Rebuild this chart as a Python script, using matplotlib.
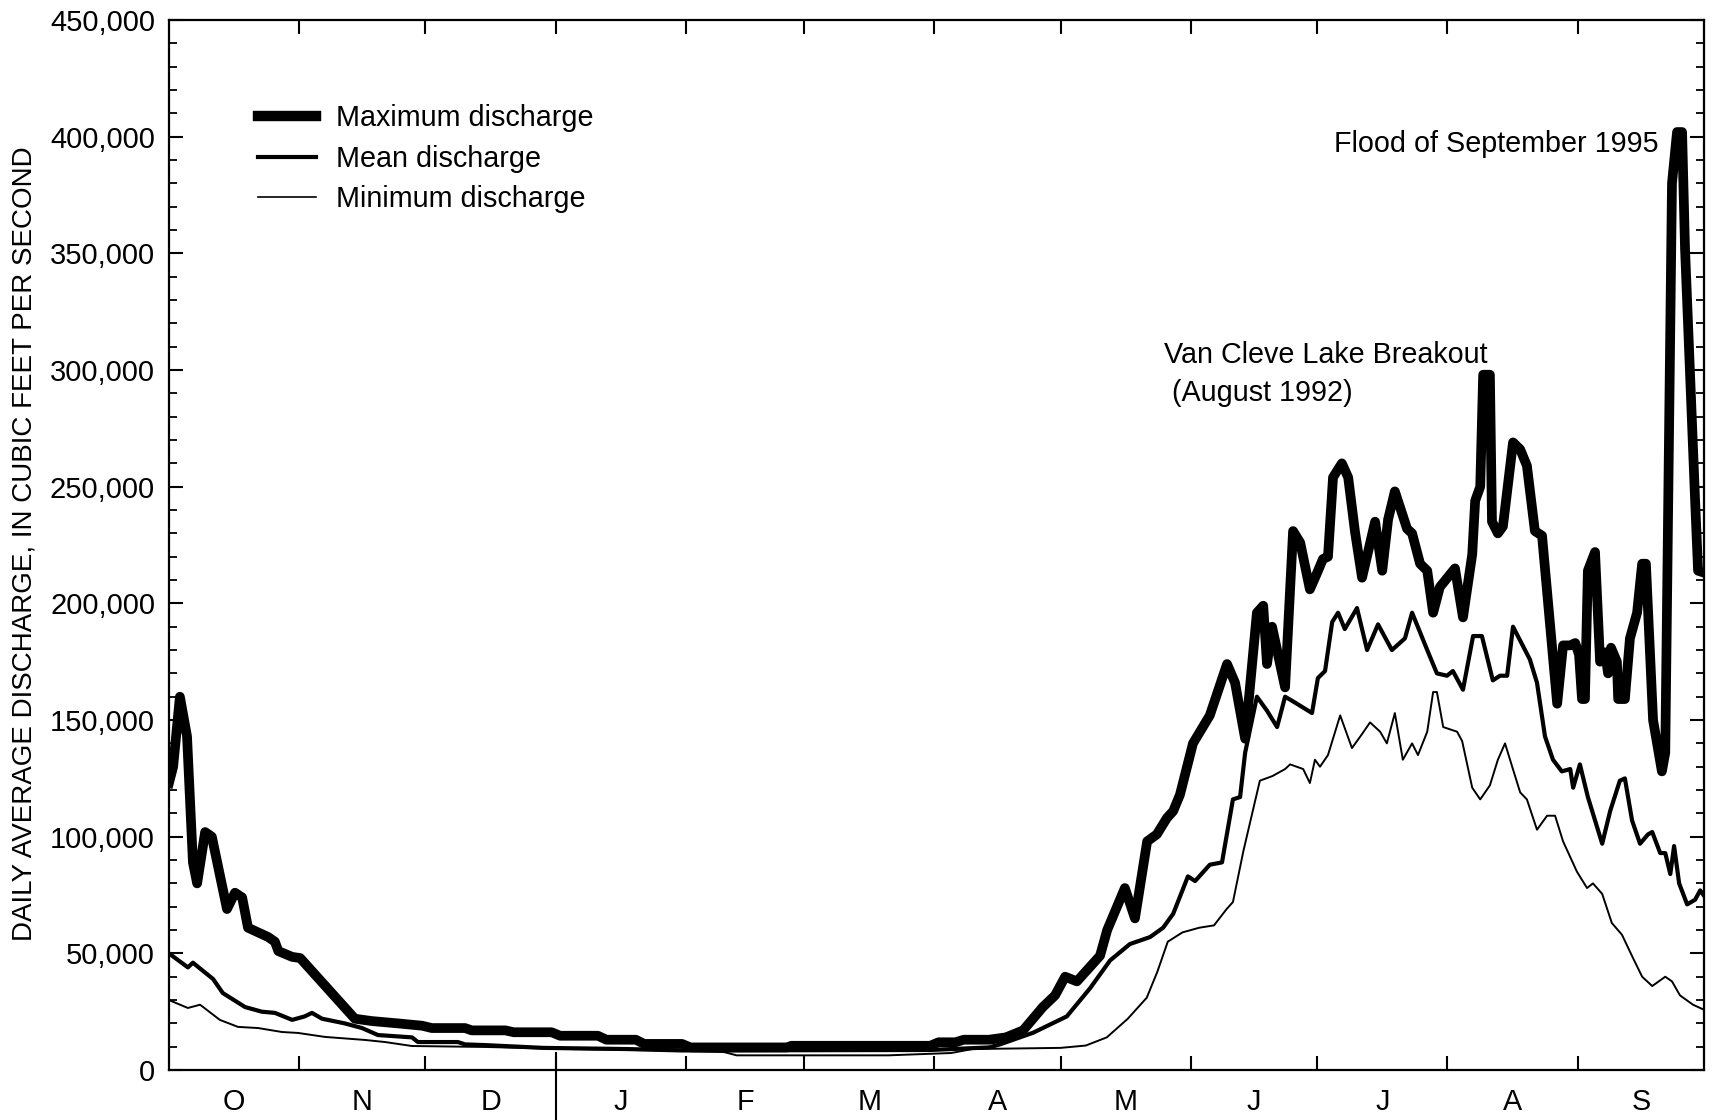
import matplotlib
matplotlib.use("Agg")
import matplotlib.pyplot as plt
from matplotlib.ticker import FuncFormatter, MultipleLocator
from matplotlib.lines import Line2D

plt.rcParams['font.family'] = ['Liberation Sans', 'DejaVu Sans']

# Water year, day 0 = October 1
month_bounds = [0, 31, 61, 92, 123, 151, 182, 212, 243, 273, 304, 335, 365]
month_labels = ['O', 'N', 'D', 'J', 'F', 'M', 'A', 'M', 'J', 'J', 'A', 'S']

# Maximum daily discharge (cfs)
max_day = [0, 1.0, 2.6, 4.3, 5.7, 6.7, 8.6, 10.2, 13.8, 15.7, 17.4, 18.8, 23.6, 25.2,
           26.0, 29.3, 31.2, 44.2, 48.2, 54.4, 60.2, 62.5, 70.4, 72, 80, 82, 91, 93,
           102, 104, 111, 113, 122, 124, 147, 148, 181, 183, 187, 189, 195, 199,
           203.1, 207.8, 210.7, 213.1, 215.9, 221.4, 223.1, 227.3, 229.7, 232.6,
           234.9, 237.3, 238.8, 240.4, 243.5, 247.5, 251.6, 253.5, 255.9, 258.7,
           260.2, 261.1, 262.3, 265.4, 267.3, 269.0, 271.3, 273.0, 274.4, 275.6,
           276.8, 278.9, 280.4, 282.0, 283.7, 286.8, 288.5, 289.9, 291.5, 294.4,
           295.6, 297.5, 299.2, 300.6, 302.2, 305.8, 307.7, 309.9, 310.6, 311.8,
           312.5, 314.1, 314.6, 316.0, 317.2, 319.6, 321.3, 322.9, 324.8, 326.5,
           327.7, 330.1, 331.5, 333.2, 334.4, 335.3, 336.0, 336.7, 337.4, 339.1,
           340.3, 341.5, 342.2, 342.9, 344.3, 344.6, 346.2, 347.4, 349.1, 350.3,
           351.2, 352.9, 355.0, 355.8, 357.4, 358.6, 359.8, 360.5, 362.9, 363.6, 365.3]
max_cfs = [123000, 130000, 160000, 143000, 89000, 80000, 102000, 100000, 69000, 76000,
           74000, 61000, 57000, 55000, 51000, 48500, 48000, 22000, 21000, 20000, 19000,
           18000, 18000, 17000, 17000, 16200, 16200, 14700, 14700, 13000, 13000, 11200,
           11200, 9700, 9700, 10400, 10400, 11900, 11900, 13000, 13000, 14000,
           17000, 27000, 32000, 40000, 38000, 49000, 60000, 78000, 65000, 98000,
           101000, 108000, 111000, 118000, 140000, 152000, 174000, 166000, 142000, 196000,
           199000, 174000, 190000, 164000, 231000, 226000, 206000, 213000, 219000, 220000,
           254000, 260000, 254000, 231000, 211000, 235000, 214000, 236000, 248000, 232000,
           230000, 217000, 214000, 196000, 207000, 215000, 194000, 221000, 244000, 250000,
           298000, 298000, 235000, 230000, 233000, 269000, 266000, 259000, 231000, 229000,
           205000, 157000, 182000, 182000, 183000, 178000, 159000, 159000, 214000, 222000,
           175000, 179000, 170000, 181000, 175000, 159000, 159000, 185000, 196000, 217000,
           217000, 150000, 128000, 136000, 380000, 402000, 402000, 352000, 244000, 214000, 213000]

# Mean daily discharge (cfs)
mean_day = [0, 4.5, 5.7, 10.5, 12.8, 18.1, 22.1, 25.2, 29.3, 32.3, 34.0, 36.4, 41.8,
            45.9, 49.7, 57.8, 59.2, 68.7, 70.4, 75.1, 89, 109, 122, 181, 195, 197.6,
            205.5, 213.5, 219.0, 223.8, 228.5, 233.3, 236.4, 238.8, 242.3, 244.0, 247.5,
            250.4, 253.0, 254.7, 255.9, 258.7, 261.1, 263.5, 265.4, 267.3, 271.8, 273.2,
            274.9, 276.6, 278.0, 279.6, 282.5, 284.9, 287.5, 290.8, 293.9, 295.6, 299.2,
            301.5, 303.9, 305.3, 307.7, 310.1, 312.2, 314.8, 316.5, 318.2, 319.6, 323.6,
            325.3, 327.2, 329.1, 331.2, 333.2, 333.9, 335.5, 337.4, 340.8, 342.7, 345.0,
            346.2, 347.9, 349.8, 351.7, 352.7, 354.6, 355.8, 357.0, 357.9, 359.1, 361.0,
            362.9, 364.1, 365.3]
mean_cfs = [50000, 44000, 46000, 39000, 33000, 27000, 25000, 24500, 21500, 23000, 24500,
            22000, 20000, 18000, 15000, 14000, 12000, 12000, 11000, 10700, 9500, 9000,
            8400, 8600, 9700, 11000, 16000, 23000, 35000, 47000, 54000, 57000, 61000,
            67000, 83000, 81000, 88000, 89000, 116000, 117000, 136000, 160000, 154000,
            147000, 160000, 158000, 153000, 168000, 171000, 192000, 196000, 189000, 198000,
            180000, 191000, 180000, 185000, 196000, 180000, 170000, 169000, 171000, 163000,
            186000, 186000, 167000, 169000, 169000, 190000, 176000, 166000, 143000, 133000,
            128000, 129000, 121000, 131000, 117000, 97000, 111000, 124000, 125000, 107000,
            97000, 101000, 102000, 93000, 93000, 84000, 96000, 80000, 71000, 73000, 77000,
            74000]

# Minimum daily discharge (cfs)
min_day = [0, 4.5, 7.4, 12.1, 16.4, 21.2, 26.9, 30.7, 37.1, 46.6, 51.4, 57.8, 75.1, 95,
           122, 132, 135, 171, 186, 191, 212, 218, 223, 228, 232.5, 235, 237.5, 241, 245,
           248.5, 251.5, 253, 255.5, 259.4, 262.4, 265.4, 266.6, 269.7, 271.3, 272.5,
           273.7, 275.6, 278.5, 281.3, 283.7, 285.6, 288.0, 289.6, 291.5, 293.4, 295.6,
           297.0, 299.2, 300.6, 301.5, 303.0, 306.3, 307.5, 309.9, 311.8, 314.1, 316.0,
           317.7, 319.4, 321.3, 322.9, 325.3, 327.7, 329.6, 331.5, 334.8, 337.2, 338.6,
           340.8, 343.1, 345.5, 348.0, 350.3, 352.7, 355.8, 357.4, 359.3, 362.4, 365.3]
min_cfs = [30000, 26600, 28000, 21500, 18500, 18000, 16300, 15900, 14200, 12900, 12000,
           10300, 9900, 9000, 8300, 7700, 6300, 6300, 7300, 9000, 9500, 10500, 14000, 22000,
           31000, 42000, 55000, 59000, 61000, 62000, 69000, 72000, 94000, 124000, 126000,
           129000, 131000, 129000, 123000, 133000, 130000, 135000, 152000, 138000, 144000,
           149000, 145000, 140000, 153000, 133000, 140000, 135000, 145000, 162000, 162000,
           147000, 145000, 141000, 121000, 116000, 122000, 133000, 140000, 130000, 119000,
           116000, 103000, 109000, 109000, 98000, 85000, 78000, 80000, 75500, 63000, 58000,
           48500, 40000, 36000, 40000, 38000, 32000, 28000, 25600]

fig = plt.figure(figsize=(17.17, 11.2), dpi=100)
ax = fig.add_axes([0.0984, 0.0446, 0.894, 0.9375])

ax.plot(max_day, max_cfs, color='black', lw=7, solid_joinstyle='round')
ax.plot(mean_day, mean_cfs, color='black', lw=3.0, solid_joinstyle='round')
ax.plot(min_day, min_cfs, color='black', lw=1.4, solid_joinstyle='round')

ax.set_xlim(0, 365)
ax.set_ylim(0, 450000)

# month boundaries as ticks, month letters centred in each month
centers = [(a + b) / 2 for a, b in zip(month_bounds[:-1], month_bounds[1:])]
ax.set_xticks(month_bounds[1:-1])
ax.set_xticklabels([])
ax.set_xticks(centers, minor=True)
ax.set_xticklabels(month_labels, minor=True, fontsize=20.7)
ax.tick_params(axis='x', which='major', direction='in', length=10, width=1.5,
               top=True, bottom=True)
ax.tick_params(axis='x', which='minor', length=0, pad=13, top=False)

ax.yaxis.set_major_locator(MultipleLocator(50000))
ax.yaxis.set_minor_locator(MultipleLocator(10000))
ax.yaxis.set_major_formatter(FuncFormatter(lambda v, p: f'{v:,.0f}'))
ax.tick_params(axis='y', which='major', direction='in', length=10, width=1.5,
               left=True, right=True, labelsize=21, pad=10)
ax.tick_params(axis='y', which='minor', direction='in', length=6, width=1.3,
               left=True, right=True)

for s in ax.spines.values():
    s.set_linewidth(1.6)

# calendar-year separator between December and January
ax.plot([92, 92], [7500, -40000], color='black', lw=1.5, clip_on=False)

fig.text(25 / 1717, 0.515, 'DAILY AVERAGE DISCHARGE, IN CUBIC FEET PER SECOND',
         rotation=90, ha='center', va='center', fontsize=20)

handles = [Line2D([], [], color='black', lw=7.5),
           Line2D([], [], color='black', lw=3.0),
           Line2D([], [], color='black', lw=1.2)]
ax.legend(handles, ['Maximum discharge', 'Mean discharge', 'Minimum discharge'],
          loc='upper left', bbox_to_anchor=(0.1503, 0.9067), bbox_transform=fig.transFigure,
          frameon=False, fontsize=20.7, handlelength=2.02, handletextpad=0.7,
          labelspacing=0.42, borderpad=0, borderaxespad=0)

ax.text(277, 396800, 'Flood of September 1995', fontsize=20.7, ha='left', va='center')
ax.text(236.6, 306600, 'Van Cleve Lake Breakout', fontsize=20.7, ha='left', va='center')
ax.text(236.6, 290300, ' (August 1992)', fontsize=20.7, ha='left', va='center')

fig.savefig('out.png', dpi=100)
